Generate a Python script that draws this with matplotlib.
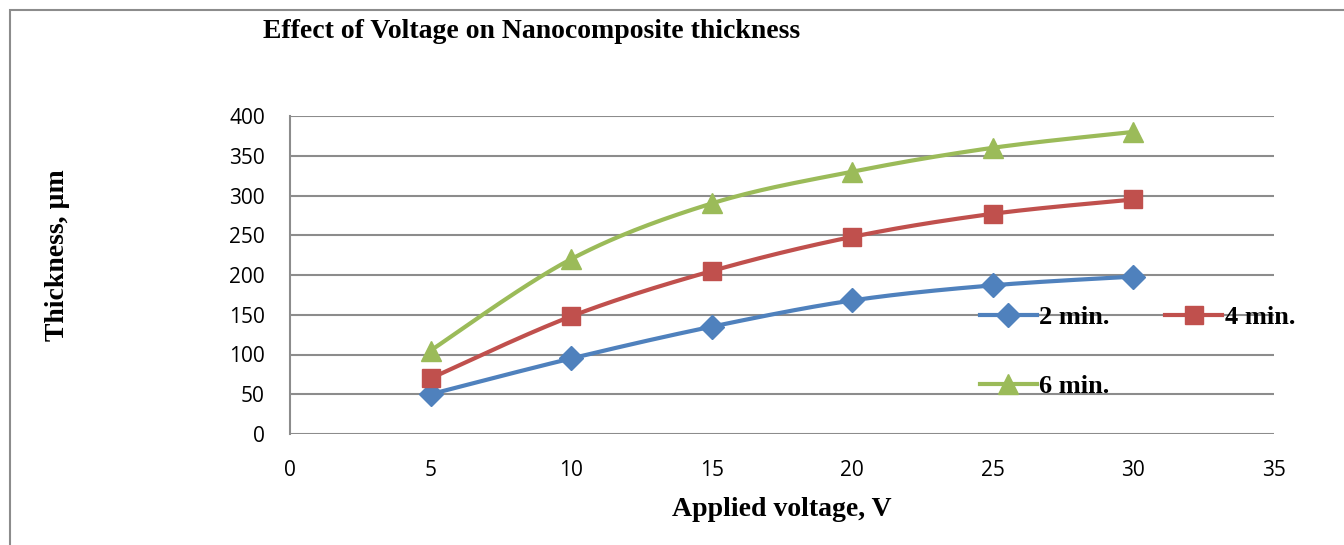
import numpy as np
import matplotlib
matplotlib.use('Agg')
import matplotlib.pyplot as plt
from matplotlib.patches import Rectangle

voltage = [5, 10, 15, 20, 25, 30]
thick_2min = [50, 95, 135, 168, 187, 198]
thick_4min = [70, 148, 205, 248, 277, 295]
thick_6min = [105, 220, 290, 330, 360, 380]

series = [
	('2 min.', thick_2min, '#4F81BD', 'D', 12),
	('4 min.', thick_4min, '#C0504D', 's', 13),
	('6 min.', thick_6min, '#9BBB59', '^', 15),
]


def smooth(x, y, n=30):
	# catmull-rom curve through the points, like a smoothed line in a spreadsheet
	x = np.asarray(x, float)
	y = np.asarray(y, float)
	px = np.concatenate([[x[0]], x, [x[-1]]])
	py = np.concatenate([[y[0]], y, [y[-1]]])
	xs, ys = [], []
	for i in range(1, len(px) - 2):
		t = np.linspace(0, 1, n)
		for p, out in ((px, xs), (py, ys)):
			p0, p1, p2, p3 = p[i - 1], p[i], p[i + 1], p[i + 2]
			m1 = (p2 - p0) / 2
			m2 = (p3 - p1) / 2
			h00 = 2 * t**3 - 3 * t**2 + 1
			h10 = t**3 - 2 * t**2 + t
			h01 = -2 * t**3 + 3 * t**2
			h11 = t**3 - t**2
			out.extend(h00 * p1 + h10 * m1 + h01 * p2 + h11 * m2)
	return np.array(xs), np.array(ys)


fig = plt.figure(figsize=(13.44, 5.45), dpi=100)
ax = fig.add_axes([290 / 1344, 1 - 434 / 545, 984 / 1344, 318 / 545])

# outer frame
fig.patches.append(Rectangle((10 / 1344, -0.1), 1.2, 1.1 - 10 / 545, transform=fig.transFigure,
							 fill=False, edgecolor='#8c8c8c', linewidth=1.5))

handles = {}
for label, vals, color, marker, ms in series:
	sx, sy = smooth(voltage, vals)
	ax.plot(sx, sy, color=color, linewidth=3, solid_capstyle='round', zorder=3)
	ax.plot(voltage, vals, linestyle='none', marker=marker, markersize=ms,
			color=color, zorder=4)
	handles[label], = ax.plot([], [], color=color, linewidth=3, marker=marker,
							  markersize=ms, label=label)

ax.set_xlim(0, 35)
ax.set_ylim(0, 400)
ax.set_xticks(range(0, 36, 5))
ax.set_yticks(range(0, 401, 50))
ax.grid(axis='y', color='#8c8c8c', linewidth=1.5)
ax.set_axisbelow(True)
for s in ['top', 'right', 'bottom']:
	ax.spines[s].set_visible(False)
ax.spines['left'].set_color('#8c8c8c')
ax.spines['left'].set_linewidth(1.5)
ax.tick_params(length=0, labelsize=15)
ax.tick_params(axis='x', pad=19)
ax.tick_params(axis='y', pad=18)
for t in ax.get_xticklabels() + ax.get_yticklabels():
	t.set_fontfamily('Open Sans')

serif = {'family': 'Liberation Serif', 'weight': 'bold'}
fig.text(263 / 1344, 1 - 32 / 545, 'Effect of Voltage on Nanocomposite thickness',
		 fontdict=serif, fontsize=20, va='center', ha='left')
fig.text(57 / 1344, 1 - 255 / 545, 'Thickness, µm', fontdict=serif, fontsize=20,
		 rotation=90, va='center', ha='center')
fig.text(782 / 1344, 1 - 510 / 545, 'Applied voltage, V', fontdict=serif, fontsize=20,
		 va='center', ha='center')

# two columns, filled column-wise: 2 min. / 6 min. then 4 min.
order = ['2 min.', '6 min.', '4 min.']
ax.legend([handles[k] for k in order], order, loc='upper left',
		  bbox_to_anchor=(690 / 984, (434 - 306) / 318), ncol=2, frameon=False,
		  prop={'family': 'Liberation Serif', 'weight': 'bold', 'size': 19},
		  handlelength=2.15, handletextpad=0.1, columnspacing=2.1, labelspacing=1.7,
		  borderpad=0, borderaxespad=0)

plt.savefig('out.png', dpi=100)
